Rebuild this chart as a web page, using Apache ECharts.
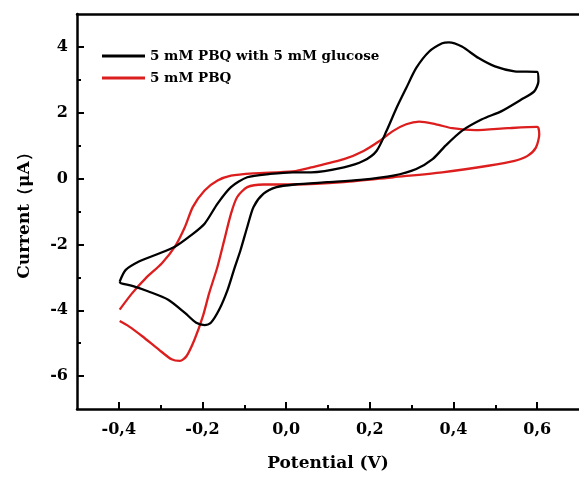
<!DOCTYPE html>
<html>
<head>
<meta charset="utf-8">
<script src="https://cdn.jsdelivr.net/npm/echarts@6/dist/echarts.min.js"></script>
<style>
  html, body { margin: 0; padding: 0; background: #fff; }
  #chart { width: 579px; height: 477px; }
</style>
</head>
<body>
<div id="chart"></div>
<script>
// CV loop with glucose (black)
const glucoseV = [-0.398, -0.384, -0.352, -0.313, -0.266, -0.227, -0.195, -0.164, -0.132, -0.093, -0.038, 0.016, 0.06, 0.138, 0.185, 0.216, 0.24, 0.264, 0.287, 0.311, 0.342, 0.373, 0.389, 0.42, 0.46, 0.499, 0.546, 0.60, 0.603, 0.593, 0.562, 0.515, 0.468, 0.42, 0.381, 0.35, 0.311, 0.256, 0.177, 0.099, 0.02, -0.023, -0.054, -0.078, -0.093, -0.109, -0.125, -0.14, -0.16, -0.18, -0.195, -0.215, -0.242, -0.282, -0.329, -0.368, -0.395, -0.398];
const glucoseI = [-3.13, -2.78, -2.52, -2.32, -2.07, -1.72, -1.37, -0.76, -0.26, 0.04, 0.14, 0.19, 0.19, 0.34, 0.54, 0.84, 1.45, 2.15, 2.75, 3.36, 3.86, 4.11, 4.14, 4.01, 3.66, 3.41, 3.26, 3.24, 2.96, 2.65, 2.40, 2.05, 1.80, 1.45, 1.0, 0.59, 0.29, 0.09, -0.04, -0.11, -0.18, -0.26, -0.46, -0.86, -1.47, -2.17, -2.78, -3.38, -3.98, -4.38, -4.45, -4.38, -4.08, -3.68, -3.43, -3.26, -3.18, -3.13];

// CV loop PBQ only (red)
const pbqV = [-0.398, -0.368, -0.336, -0.297, -0.266, -0.242, -0.223, -0.195, -0.164, -0.132, -0.078, 0.016, 0.06, 0.138, 0.185, 0.224, 0.256, 0.287, 0.318, 0.358, 0.397, 0.452, 0.53, 0.60, 0.605, 0.597, 0.577, 0.546, 0.483, 0.373, 0.256, 0.138, 0.02, -0.054, -0.093, -0.117, -0.132, -0.148, -0.164, -0.184, -0.199, -0.219, -0.238, -0.254, -0.274, -0.305, -0.344, -0.376, -0.398];
const pbqI = [-3.98, -3.48, -3.03, -2.57, -2.07, -1.47, -0.86, -0.36, -0.06, 0.09, 0.16, 0.22, 0.34, 0.59, 0.84, 1.15, 1.45, 1.65, 1.73, 1.65, 1.53, 1.47, 1.53, 1.57, 1.35, 0.94, 0.69, 0.54, 0.39, 0.19, 0.04, -0.11, -0.18, -0.18, -0.26, -0.56, -1.07, -1.87, -2.67, -3.48, -4.18, -4.89, -5.39, -5.54, -5.49, -5.19, -4.79, -4.49, -4.33];

const seriesNames = ['5 mM PBQ with 5 mM glucose', '5 mM PBQ'];

// tick positions
const xLabelValues = [-0.4, -0.2, 0, 0.2, 0.4, 0.6];
const xMinorValues = [-0.3, -0.1, 0.1, 0.3, 0.5];
const yLabelValues = [-6, -4, -2, 0, 2, 4];
const yMinorValues = [-5, -3, -1, 1, 3];

const font = 'DejaVu Serif';
const axisLineStyle = { color: '#000', width: 2.5 };

const chart = echarts.init(document.getElementById('chart'));

chart.setOption({
  animation: false,
  grid: { left: 77, top: 14, right: -7, bottom: 67 },
  legend: {
    data: seriesNames,
    orient: 'vertical',
    left: 97,
    top: 44,
    itemWidth: 43,
    itemHeight: 3,
    itemGap: 8,
    icon: 'rect',
    textStyle: { fontFamily: font, fontWeight: 'bold', fontSize: 13.5, color: '#000' }
  },
  xAxis: [
    {
      type: 'value',
      min: -0.5,
      max: 0.7,
      position: 'bottom',
      splitLine: { show: false },
      axisLine: { onZero: false, lineStyle: axisLineStyle },
      axisTick: { inside: true, length: 7, customValues: xLabelValues, lineStyle: { width: 2, color: '#000' } },
      axisLabel: {
        customValues: xLabelValues,
        margin: 13,
        fontFamily: font, fontWeight: 'bold', fontSize: 16, color: '#000',
        formatter: v => v.toFixed(1).replace('.', ',')
      },
      name: 'Potential (V)',
      nameLocation: 'middle',
      nameGap: 46,
      nameTextStyle: { fontFamily: font, fontWeight: 'bold', fontSize: 17, color: '#000' }
    },
    {
      type: 'value',
      min: -0.5,
      max: 0.7,
      position: 'bottom',
      splitLine: { show: false },
      axisLine: { show: false, onZero: false },
      axisTick: { inside: true, length: 4, customValues: xMinorValues, lineStyle: { width: 2, color: '#000' } },
      axisLabel: { show: false }
    },
    {
      type: 'value',
      min: -0.5,
      max: 0.7,
      position: 'top',
      splitLine: { show: false },
      axisLine: { onZero: false, lineStyle: axisLineStyle },
      axisTick: { show: false },
      axisLabel: { show: false }
    }
  ],
  yAxis: [
    {
      type: 'value',
      min: -7,
      max: 5,
      position: 'left',
      splitLine: { show: false },
      axisLine: { onZero: false, lineStyle: axisLineStyle },
      axisTick: { inside: true, length: 7, customValues: yLabelValues, lineStyle: { width: 2, color: '#000' } },
      axisLabel: {
        customValues: yLabelValues,
        margin: 9,
        fontFamily: font, fontWeight: 'bold', fontSize: 16, color: '#000'
      },
      name: 'Current（μA）',
      nameLocation: 'middle',
      nameGap: 44,
      nameTextStyle: { fontFamily: font, fontWeight: 'bold', fontSize: 17, color: '#000' }
    },
    {
      type: 'value',
      min: -7,
      max: 5,
      position: 'left',
      splitLine: { show: false },
      axisLine: { show: false, onZero: false },
      axisTick: { inside: true, length: 4, customValues: yMinorValues, lineStyle: { width: 2, color: '#000' } },
      axisLabel: { show: false }
    }
  ],
  series: [
    {
      name: seriesNames[0],
      type: 'line',
      data: glucoseV.map((v, i) => [v, glucoseI[i]]),
      smooth: 0.25,
      showSymbol: false,
      color: '#000',
      lineStyle: { width: 2.3, color: '#000' },
      z: 3
    },
    {
      name: seriesNames[1],
      type: 'line',
      data: pbqV.map((v, i) => [v, pbqI[i]]),
      smooth: 0.25,
      showSymbol: false,
      color: '#dc1e1e',
      lineStyle: { width: 2.3, color: '#dc1e1e' },
      z: 2
    }
  ]
});
</script>
</body>
</html>
